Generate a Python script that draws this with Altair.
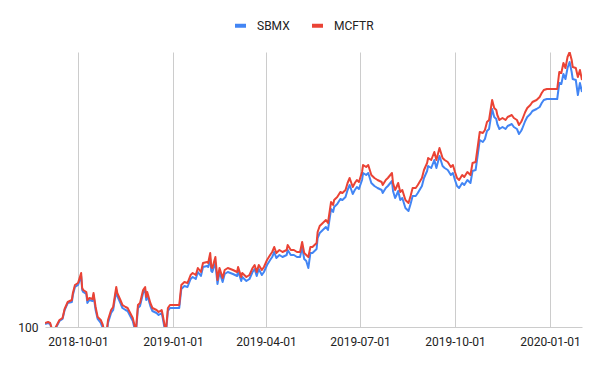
import altair as alt
import pandas as pd

dates = [
    "2018-08-30", "2018-09-02", "2018-09-04", "2018-09-06", "2018-09-08", "2018-09-10", "2018-09-13", "2018-09-16",
    "2018-09-18", "2018-09-21", "2018-09-25", "2018-09-26", "2018-09-28", "2018-10-01", "2018-10-04", "2018-10-05",
    "2018-10-06", "2018-10-09", "2018-10-10", "2018-10-12", "2018-10-15", "2018-10-16", "2018-10-18", "2018-10-20",
    "2018-10-23", "2018-10-25", "2018-10-26", "2018-10-29", "2018-10-30", "2018-11-02", "2018-11-04", "2018-11-07",
    "2018-11-08", "2018-11-11", "2018-11-13", "2018-11-16", "2018-11-18", "2018-11-20", "2018-11-23", "2018-11-26",
    "2018-11-28", "2018-11-30", "2018-12-03", "2018-12-05", "2018-12-06", "2018-12-07", "2018-12-10", "2018-12-12",
    "2018-12-16", "2018-12-18", "2018-12-21", "2018-12-22", "2018-12-25", "2018-12-27", "2018-12-29", "2019-01-07",
    "2019-01-09", "2019-01-12", "2019-01-15", "2019-01-18", "2019-01-20", "2019-01-23", "2019-01-25", "2019-01-28",
    "2019-01-30", "2019-02-03", "2019-02-04", "2019-02-06", "2019-02-07", "2019-02-08", "2019-02-11", "2019-02-13",
    "2019-02-15", "2019-02-18", "2019-02-20", "2019-02-23", "2019-02-28", "2019-03-04", "2019-03-05", "2019-03-08",
    "2019-03-09", "2019-03-13", "2019-03-16", "2019-03-19", "2019-03-21", "2019-03-23", "2019-03-25", "2019-03-28",
    "2019-03-30", "2019-04-02", "2019-04-05", "2019-04-07", "2019-04-09", "2019-04-11", "2019-04-14", "2019-04-17",
    "2019-04-21", "2019-04-22", "2019-04-25", "2019-04-28", "2019-05-01", "2019-05-04", "2019-05-06", "2019-05-08",
    "2019-05-10", "2019-05-12", "2019-05-14", "2019-05-16", "2019-05-20", "2019-05-21", "2019-05-23", "2019-05-26",
    "2019-05-29", "2019-05-31", "2019-06-03", "2019-06-05", "2019-06-06", "2019-06-09", "2019-06-12", "2019-06-14",
    "2019-06-17", "2019-06-19", "2019-06-21", "2019-06-24", "2019-06-26", "2019-06-28", "2019-06-30", "2019-07-03",
    "2019-07-04", "2019-07-07", "2019-07-09", "2019-07-12", "2019-07-15", "2019-07-18", "2019-07-22", "2019-07-23",
    "2019-07-26", "2019-07-28", "2019-08-01", "2019-08-02", "2019-08-04", "2019-08-05", "2019-08-07", "2019-08-09",
    "2019-08-11", "2019-08-14", "2019-08-17", "2019-08-19", "2019-08-21", "2019-08-24", "2019-08-26", "2019-08-30",
    "2019-09-01", "2019-09-04", "2019-09-05", "2019-09-08", "2019-09-11", "2019-09-13", "2019-09-16", "2019-09-19",
    "2019-09-21", "2019-09-24", "2019-09-27", "2019-09-29", "2019-10-01", "2019-10-03", "2019-10-05", "2019-10-08",
    "2019-10-10", "2019-10-13", "2019-10-16", "2019-10-18", "2019-10-21", "2019-10-23", "2019-10-25", "2019-10-28",
    "2019-10-30", "2019-11-01", "2019-11-03", "2019-11-06", "2019-11-08", "2019-11-10", "2019-11-11", "2019-11-13",
    "2019-11-16", "2019-11-19", "2019-11-21", "2019-11-25", "2019-11-27", "2019-11-30", "2019-12-02", "2019-12-04",
    "2019-12-05", "2019-12-08", "2019-12-10", "2019-12-13", "2019-12-15", "2019-12-19", "2019-12-22", "2019-12-24",
    "2019-12-26", "2019-12-29", "2020-01-08", "2020-01-10", "2020-01-12", "2020-01-14", "2020-01-16", "2020-01-18",
    "2020-01-20", "2020-01-22", "2020-01-23", "2020-01-26", "2020-01-28", "2020-01-30", "2020-02-01",
]

mcftr = [
    100.4, 100.5, 100.4, 99.7, 99.7, 100.1, 100.7, 100.9,
    101.8, 102.5, 102.7, 103.4, 104.2, 104.4, 105.4, 103.9,
    103.7, 103.5, 102.7, 102.9, 102.8, 103.4, 102.0, 101.0,
    100.7, 100.2, 99.7, 99.8, 100.7, 101.7, 102.0, 104.0,
    103.4, 102.7, 102.2, 102.0, 101.9, 101.5, 100.9, 99.6,
    102.2, 102.4, 103.7, 104.0, 103.0, 103.5, 102.4, 101.9,
    101.7, 101.5, 101.7, 101.2, 99.5, 101.9, 102.2, 102.2,
    104.2, 104.5, 104.4, 105.2, 105.4, 105.2, 105.9, 105.5,
    106.4, 106.5, 106.4, 107.4, 106.0, 105.9, 107.0, 104.7,
    105.9, 104.9, 105.7, 105.9, 105.7, 105.5, 106.0, 105.0,
    105.4, 105.0, 105.2, 105.9, 106.2, 105.5, 106.2, 105.7,
    106.0, 106.7, 107.2, 107.5, 108.0, 107.4, 107.7, 107.5,
    107.7, 108.2, 107.7, 107.7, 107.5, 107.5, 108.5, 107.4,
    107.2, 107.0, 108.0, 108.0, 108.4, 109.5, 110.1, 110.4,
    110.7, 110.4, 112.5, 112.2, 112.7, 113.0, 113.5, 113.4,
    113.7, 114.4, 114.9, 114.0, 114.4, 114.7, 114.5, 115.5,
    116.2, 116.0, 116.2, 115.2, 114.9, 114.7, 114.5, 114.2,
    114.7, 114.9, 115.4, 114.4, 113.7, 113.9, 114.4, 113.5,
    113.7, 112.7, 112.4, 113.1, 113.9, 113.9, 114.2, 114.9,
    115.7, 116.4, 116.9, 116.7, 117.5, 116.7, 117.9, 116.9,
    116.7, 116.5, 116.0, 116.2, 115.5, 114.9, 114.7, 115.2,
    115.0, 115.5, 115.2, 116.4, 116.5, 118.0, 119.5, 119.4,
    119.7, 120.5, 120.7, 122.7, 121.9, 121.7, 121.2, 120.7,
    120.9, 120.7, 121.0, 121.2, 120.9, 120.7, 120.2, 120.5,
    120.7, 121.5, 121.9, 122.2, 122.5, 122.7, 123.0, 123.4,
    123.7, 123.8, 123.8, 125.5, 125.4, 126.4, 125.9, 127.0,
    127.5, 126.7, 126.0, 125.9, 125.0, 125.7, 124.7,
]

sbmx = [
    100.3, 100.4, 100.3, 99.6, 99.6, 100.0, 100.6, 100.8,
    101.7, 102.4, 102.5, 103.2, 104.0, 104.2, 105.1, 103.7,
    103.5, 103.3, 102.4, 102.7, 102.6, 103.2, 101.7, 100.8,
    100.4, 99.9, 99.4, 99.5, 100.4, 101.4, 101.7, 103.7,
    103.1, 102.4, 101.9, 101.7, 101.6, 101.2, 100.6, 99.3,
    101.9, 102.1, 103.4, 103.7, 102.7, 103.2, 102.1, 101.6,
    101.4, 101.2, 101.4, 100.9, 99.2, 101.6, 101.9, 101.9,
    103.8, 104.1, 104.0, 104.8, 105.0, 104.8, 105.5, 105.1,
    106.0, 106.1, 106.0, 106.8, 105.6, 105.5, 106.4, 104.3,
    105.5, 104.5, 105.3, 105.5, 105.3, 105.1, 105.6, 104.6,
    105.0, 104.6, 104.8, 105.5, 105.8, 105.1, 105.8, 105.2,
    105.5, 106.2, 106.7, 107.0, 107.5, 106.9, 107.2, 107.0,
    107.2, 107.7, 107.2, 107.2, 107.0, 107.0, 108.0, 106.8,
    106.6, 105.9, 107.4, 107.4, 107.8, 108.9, 109.4, 109.7,
    110.0, 109.7, 111.8, 111.5, 112.0, 112.3, 112.8, 112.7,
    113.0, 113.7, 114.2, 113.3, 113.7, 114.0, 113.8, 114.7,
    115.4, 115.2, 115.4, 114.4, 114.1, 113.9, 113.7, 113.4,
    113.9, 114.1, 114.6, 113.6, 112.9, 113.1, 113.6, 112.7,
    112.9, 111.9, 111.6, 112.3, 113.1, 113.1, 113.4, 114.1,
    114.9, 115.6, 116.1, 115.9, 116.7, 115.9, 117.1, 116.1,
    115.9, 115.7, 115.2, 115.4, 114.7, 114.1, 113.9, 114.4,
    114.2, 114.7, 114.4, 115.6, 115.7, 117.2, 118.7, 118.5,
    118.8, 119.6, 119.8, 121.8, 121.0, 120.8, 120.3, 119.8,
    120.0, 119.8, 120.1, 120.3, 120.0, 119.8, 119.3, 119.6,
    119.8, 120.6, 121.0, 121.3, 121.6, 121.8, 122.0, 122.4,
    122.7, 122.8, 122.8, 124.4, 124.3, 125.3, 124.8, 125.9,
    126.5, 125.5, 124.8, 124.7, 123.2, 124.4, 123.5,
]

series_names = ["SBMX", "MCFTR"]
series_colors = ["#4285F4", "#EA4335"]
quarter_ticks = [(2018, 10), (2019, 1), (2019, 4), (2019, 7), (2019, 10), (2020, 1)]
y_ticks = [100]

df = pd.DataFrame({
    "date": pd.to_datetime(dates * 2),
    "value": sbmx + mcftr,
    "series": [series_names[0]] * len(dates) + [series_names[1]] * len(dates),
})

color = alt.Color(
    "series:N",
    scale=alt.Scale(domain=series_names, range=series_colors),
    legend=alt.Legend(
        title=None,
        orient="none",
        direction="horizontal",
        legendX=188,
        legendY=-34,
        symbolType="stroke",
        symbolSize=121,
        symbolStrokeWidth=4,
        labelFontSize=12,
        labelFont="Roboto",
        labelColor="#222222",
        labelOffset=9,
        columnPadding=14,
        padding=0,
    ),
)

x = alt.X(
    "date:T",
    title=None,
    axis=alt.Axis(
        values=[alt.DateTime(year=yy, month=mm, date=1) for yy, mm in quarter_ticks],
        format="%Y-%m-%d",
        grid=True,
        gridColor="#cccccc",
        gridWidth=1,
        domain=False,
        ticks=False,
        tickSize=0,
        labelPadding=9,
        labelFontSize=12,
        labelFont="Roboto",
        labelColor="#222222",
    ),
)

y = alt.Y(
    "value:Q",
    title=None,
    scale=alt.Scale(domain=[100, 127.5], zero=False, nice=False),
    axis=alt.Axis(
        values=y_ticks,
        grid=True,
        gridColor="#cccccc",
        domain=False,
        ticks=False,
        tickSize=0,
        labelPadding=7,
        labelFontSize=12,
        labelFont="Roboto",
        labelColor="#222222",
    ),
)

base = alt.Chart(df)
layers = [
    base.transform_filter(alt.datum.series == name)
    .mark_line(strokeWidth=2, clip=True, strokeJoin="round")
    .encode(x=x, y=y, color=color)
    for name in series_names
]

chart = alt.layer(*layers).properties(
    width=537,
    height=275,
    autosize=alt.AutoSizeParams(type="none"),
    padding={"left": 37, "top": 44, "right": 10, "bottom": 36},
).configure_view(stroke=None)

chart.save("out.html", embed_options={"renderer": "svg", "actions": False})
